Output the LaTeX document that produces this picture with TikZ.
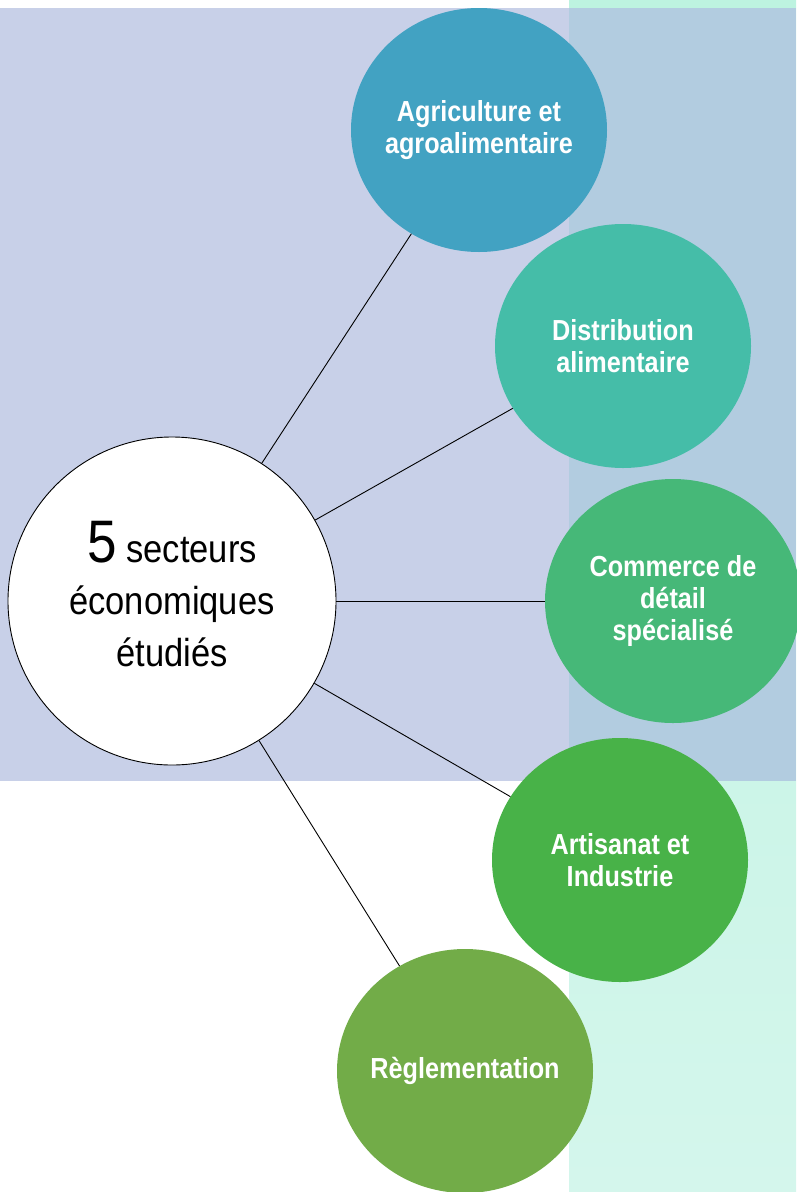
\documentclass[tikz,border=0pt]{standalone}
\usepackage{fontspec}
\setmainfont{Liberation Sans}
\newfontfamily\hubfont[FakeStretch=0.885]{Liberation Sans}
\newfontfamily\labfont[FakeStretch=0.87]{Liberation Sans}
\usetikzlibrary{positioning, calc}
\usetikzlibrary{shapes.geometric}

\definecolor{lavande}{HTML}{C8D0E8}
\definecolor{recouvre}{HTML}{B2CCE0}
\definecolor{mentehaut}{HTML}{BDF3E0}
\definecolor{mentebas}{HTML}{D4F6EC}
\definecolor{agricol}{HTML}{42A2C2}
\definecolor{distribcol}{HTML}{45BDA8}
\definecolor{commercecol}{HTML}{46B878}
\definecolor{artisancol}{HTML}{48B248}
\definecolor{reglecol}{HTML}{72AC48}

\begin{document}
\begin{tikzpicture}[x=1pt,y=-1pt,
    secteur/.style={ellipse, minimum width=256pt, minimum height=244pt, inner sep=-20pt,
        text=white, align=center, font=\labfont\bfseries\fontsize{29}{32}\selectfont},
    lien/.style={line width=0.9pt, black}]
    \useasboundingbox (0,0) rectangle (796,1192);
    % fond
    \shade[top color=mentehaut, bottom color=mentebas] (569,0) rectangle (796,1192);
    \fill[lavande] (0,8) rectangle (569,781);
    \fill[recouvre] (569,8) rectangle (796,781);
    % secteurs
    \node[secteur, fill=agricol] (agri) at (479,130) {Agriculture et\\agroalimentaire};
    \node[secteur, fill=distribcol] (distrib) at (623,346) {Distribution\\alimentaire};
    \node[secteur, fill=commercecol] (commerce) at (673,601) {Commerce de\\détail\\spécialisé};
    \node[secteur, fill=artisancol] (artisan) at (620,860) {Artisanat et\\Industrie};
    \node[secteur, fill=reglecol] (regle) at (465,1071) {Règlementation};
    \node[circle, draw, line width=0.9pt, fill=white, minimum size=328pt, inner sep=0pt,
        align=center, text depth=15pt, font=\hubfont\fontsize{39}{52}\selectfont] (hub) at (172,601)
        {{\fontsize{60}{52}\selectfont 5} secteurs\\économiques\\étudiés};
    \foreach \s in {agri, distrib, commerce, artisan, regle}{
        \draw[lien] (hub) -- (\s);
    }
\end{tikzpicture}
\end{document}
